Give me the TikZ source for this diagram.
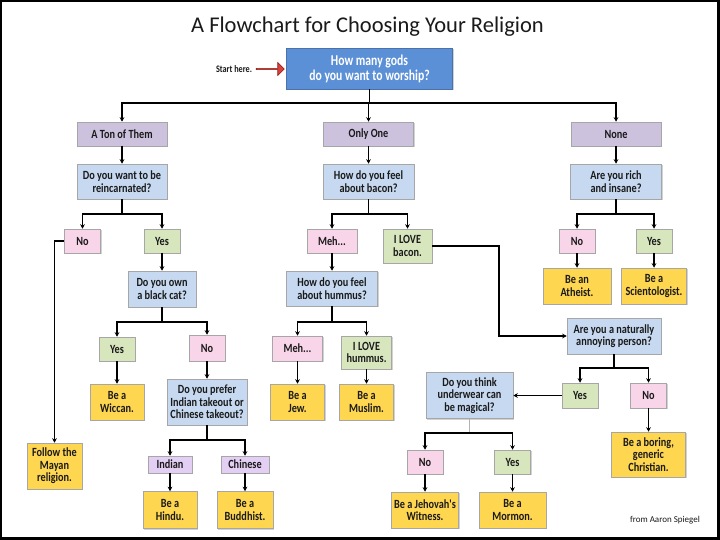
\documentclass[tikz,border=0pt]{standalone}
\usepackage{fontspec}
\setmainfont{Carlito}
\newfontfamily\narrowfamily{Carlito}[FakeStretch=0.82]
\newfontfamily\startfamily{Carlito}[FakeStretch=0.78]
\usetikzlibrary{arrows.meta,shapes.arrows,shadows}
\definecolor{startblue}{HTML}{5B8FD6}
\definecolor{groupfill}{HTML}{CDC2DE}
\definecolor{askfill}{HTML}{C6D9F1}
\definecolor{nofill}{HTML}{F9D5EA}
\definecolor{yesfill}{HTML}{D8E6BE}
\definecolor{befill}{HTML}{FFD650}
\definecolor{foodfill}{HTML}{E3CEF4}
\definecolor{boxline}{HTML}{A6A6A6}
\definecolor{ink}{HTML}{1A1A1A}
\definecolor{arrowred}{HTML}{D8403A}
\definecolor{arrowdark}{HTML}{8C1A14}
\newcommand\flowfont{\narrowfamily\fontsize{12.5}{12.5}\selectfont\bfseries}
\newcommand\startfont{\startfamily\fontsize{15}{15}\selectfont\bfseries}
\tikzset{
  % ---- boxes -----------------------------------------------------
  flowbox/.style   = {rectangle, draw=boxline, line width=.5pt, inner sep=1pt,
                      align=center, text=ink, font=\flowfont,
                      drop shadow={shadow xshift=1.2pt, shadow yshift=-1.2pt,
                                   opacity=.35}},
  startbox/.style  = {flowbox, fill=startblue, draw=startblue!80!black,
                      text=white, font=\startfont,
                      minimum width=166pt, minimum height=41pt},
  groupbox/.style  = {flowbox, fill=groupfill, minimum width=90pt,
                      minimum height=24pt},
  askbox/.style    = {flowbox, fill=askfill, minimum height=35pt},
  nobox/.style     = {flowbox, fill=nofill, minimum width=36pt,
                      minimum height=24pt},
  yesbox/.style    = {flowbox, fill=yesfill, minimum width=36pt,
                      minimum height=24pt},
  bebox/.style     = {flowbox, fill=befill, minimum width=54pt,
                      minimum height=36pt},
  foodbox/.style   = {flowbox, fill=foodfill, minimum height=17pt},
  % ---- connectors ------------------------------------------------
  link/.style      = {draw=black, line width=1.2pt,
                      -{Stealth[length=4.5pt,width=4.5pt]}},
  stem/.style      = {draw=black, line width=1.2pt},
  greystem/.style  = {draw=gray!60, line width=1pt},
  startarrow/.style= {single arrow, fill=arrowred, draw=arrowdark,
                      line width=.6pt, inner sep=0pt, minimum width=13pt,
                      minimum height=28pt, single arrow head extend=3pt},
}

\begin{document}
\begin{tikzpicture}[x=1pt,y=-1pt]
  \fill[black] (0,0) rectangle (720,540);
  \fill[white] (2,2) rectangle (717,537);
  \useasboundingbox (0,0) rectangle (720,540);

  \node[anchor=base, font=\fontsize{22.5}{26}\selectfont, text=ink] (title) at (367.5,33) {A Flowchart for Choosing Your Religion};
  \node[startbox] (start) at (369.5,68.5) {How many gods\\do you want to worship?};
  \node[font=\narrowfamily\fontsize{10}{10}\selectfont\bfseries, text=ink] (herelabel) at (234,69) {Start here.};
  \node[startarrow] (here) at (270,69) {};

  \node[groupbox] (many) at (122,134) {A Ton of Them};
  \node[groupbox] (one) at (368.5,134) {Only One};
  \node[groupbox] (none) at (616,134) {None};

  \node[askbox, minimum width=90pt] (reinc) at (122,181.5) {Do you want to be\\reincarnated?};
  \node[askbox, minimum width=91pt] (bacon) at (368.5,181.5) {How do you feel\\about bacon?};
  \node[askbox, minimum width=91pt] (rich) at (616,181.5) {Are you rich\\and insane?};

  \node[nobox] (reincNo) at (82.5,241) {No};
  \node[yesbox] (reincYes) at (162,241) {Yes};
  \node[nobox, minimum width=50pt] (mehBacon) at (332,241) {Meh...};
  \node[yesbox, minimum width=49pt, minimum height=34pt] (loveBacon) at (407.5,246) {I LOVE\\bacon.};
  \node[nobox] (richNo) at (577,241) {No};
  \node[yesbox] (richYes) at (654,241) {Yes};

  \node[bebox, minimum width=68pt] (atheist) at (577,286) {Be an\\Atheist.};
  \node[bebox, minimum width=65pt] (sciento) at (654,286) {Be a\\Scientologist.};
  \node[askbox, minimum width=68pt, minimum height=36pt] (blackcat) at (162,289) {Do you own\\a black cat?};
  \node[askbox, minimum width=91pt] (hummus) at (332,288.5) {How do you feel\\about hummus?};
  \node[askbox, minimum width=94pt, minimum height=36pt] (annoying) at (614,336) {Are you a naturally\\annoying person?};

  \node[yesbox] (catYes) at (117,349) {Yes};
  \node[nobox, minimum height=26pt] (catNo) at (207,348) {No};
  \node[bebox] (wiccan) at (117,402) {Be a\\Wiccan.};
  \node[askbox, minimum width=80pt, minimum height=46pt] (takeout) at (207,402) {Do you prefer\\Indian takeout or\\Chinese takeout?};
  \node[foodbox, minimum width=44pt] (indian) at (170,464.5) {Indian};
  \node[foodbox, minimum width=48pt] (chinese) at (245,464.5) {Chinese};
  \node[bebox, minimum height=37pt] (hindu) at (170,510) {Be a\\Hindu.};
  \node[bebox, minimum width=56pt, minimum height=37pt] (buddhist) at (245,510) {Be a\\Buddhist.};
  \node[bebox, minimum width=55pt, minimum height=46pt] (mayan) at (54.5,466) {Follow the\\Mayan\\religion.};

  \node[nobox, minimum width=50pt, minimum height=25pt] (mehHummus) at (297.5,348.5) {Meh...};
  \node[yesbox, minimum width=50pt, minimum height=33pt] (loveHummus) at (366.5,352.5) {I LOVE\\hummus.};
  \node[bebox] (jew) at (297.5,402) {Be a\\Jew.};
  \node[bebox] (muslim) at (366.5,402) {Be a\\Muslim.};

  \node[yesbox, minimum height=25pt] (annoyYes) at (580,395.5) {Yes};
  \node[nobox, minimum height=25pt] (annoyNo) at (648.5,395.5) {No};
  \node[bebox, minimum width=74pt, minimum height=45pt] (christian) at (648.5,454.5) {Be a boring,\\generic\\Christian.};
  \node[askbox, minimum width=87pt, minimum height=46pt] (underwear) at (469.5,395.5) {Do you think\\underwear can\\be magical?};
  \node[nobox] (wearNo) at (425,462) {No};
  \node[yesbox] (wearYes) at (512.5,462) {Yes};
  \node[bebox, minimum width=67pt] (jehovah) at (425,510) {Be a Jehovah's\\Witness.};
  \node[bebox, minimum width=67pt] (mormon) at (512.5,510) {Be a\\Mormon.};

  \node[font=\fontsize{9}{10}\selectfont, text=ink] (credit) at (665,520) {from Aaron Spiegel};

  % branch points
  \coordinate (bTop) at (369.5,103);
  \coordinate (bReinc) at (122,214);
  \coordinate (bBacon) at (368.5,214);
  \coordinate (bRich) at (616,214);
  \coordinate (bCat) at (162,322);
  \coordinate (bHummus) at (332,322);
  \coordinate (bAnnoy) at (614,368);
  \coordinate (bTakeout) at (207,440);
  \coordinate (bWear) at (469.5,433);
  \coordinate (baconTurn) at (499,246);

  \draw[stem] (start) -- (bTop);
  \draw[link] (bTop) -| (many);
  \draw[link] (bTop) -| (one);
  \draw[link] (bTop) -| (none);
  \draw[link] (many) -- (reinc);
  \draw[link] (one) -- (bacon);
  \draw[link] (none) -- (rich);

  \draw[stem] (reinc) -- (bReinc);
  \draw[link] (bReinc) -| (reincNo);
  \draw[link] (bReinc) -| (reincYes);
  \draw[stem] (bacon) -- (bBacon);
  \draw[link] (bBacon) -| (mehBacon);
  \draw[link] (bBacon) -| (loveBacon);
  \draw[stem] (rich) -- (bRich);
  \draw[link] (bRich) -| (richNo);
  \draw[link] (bRich) -| (richYes);

  \draw[link] (reincNo) -| (mayan);
  \draw[link] (reincYes) -- (blackcat);
  \draw[link] (mehBacon) -- (hummus);
  \draw[link] (loveBacon) -- (baconTurn) |- (annoying);
  \draw[link] (richNo) -- (atheist);
  \draw[link] (richYes) -- (sciento);

  \draw[stem] (blackcat) -- (bCat);
  \draw[link] (bCat) -| (catYes);
  \draw[link] (bCat) -| (catNo);
  \draw[link] (catYes) -- (wiccan);
  \draw[link] (catNo) -- (takeout);
  \draw[stem] (takeout) -- (bTakeout);
  \draw[link] (bTakeout) -| (indian);
  \draw[link] (bTakeout) -| (chinese);
  \draw[link] (indian) -- (hindu);
  \draw[link] (chinese) -- (buddhist);

  \draw[stem] (hummus) -- (bHummus);
  \draw[link] (bHummus) -| (mehHummus);
  \draw[link] (bHummus) -| (loveHummus);
  \draw[link] (mehHummus) -- (jew);
  \draw[link] (loveHummus) -- (muslim);

  \draw[stem] (annoying) -- (bAnnoy);
  \draw[link] (bAnnoy) -| (annoyYes);
  \draw[link] (bAnnoy) -| (annoyNo);
  \draw[link] (annoyYes) -- (underwear);
  \draw[link] (annoyNo) -- (christian);
  \draw[greystem] (underwear) -- (bWear);
  \draw[link] (bWear) -| (wearNo);
  \draw[link] (bWear) -| (wearYes);
  \draw[link] (wearNo) -- (jehovah);
  \draw[link] (wearYes) -- (mormon);
\end{tikzpicture}
\end{document}
